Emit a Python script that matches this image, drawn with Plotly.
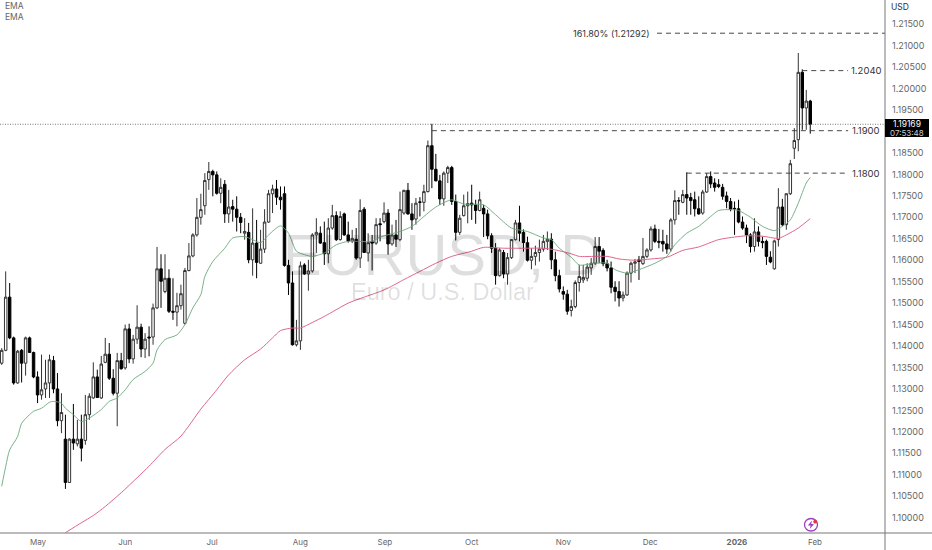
import plotly.graph_objects as go

W, H = 932, 550
AXIS_X, AXIS_Y = 885, 533

opens = [
    1.1360, 1.1390, 1.1514, 1.1419, 1.1314, 1.1390, 1.1360, 1.1419, 1.1385, 1.1328,
    1.1286, 1.1300, 1.1314, 1.1366, 1.1300, 1.1226, 1.1183, 1.1082, 1.1183, 1.1172,
    1.1183, 1.1180, 1.1240, 1.1279, 1.1328, 1.1279, 1.1362, 1.1381, 1.1325, 1.1290,
    1.1366, 1.1349, 1.1440, 1.1370, 1.1416, 1.1444, 1.1393, 1.1421, 1.1421, 1.1489,
    1.1580, 1.1527, 1.1558, 1.1481, 1.1479, 1.1494, 1.1453, 1.1576, 1.1610, 1.1659,
    1.1700, 1.1727, 1.1788, 1.1807, 1.1799, 1.1756, 1.1777, 1.1708, 1.1725, 1.1719,
    1.1700, 1.1663, 1.1665, 1.1601, 1.1640, 1.1593, 1.1626, 1.1689, 1.1755, 1.1766,
    1.1747, 1.1755, 1.1588, 1.1547, 1.1403, 1.1412, 1.1589, 1.1568, 1.1575, 1.1659,
    1.1663, 1.1641, 1.1615, 1.1675, 1.1704, 1.1648, 1.1708, 1.1659, 1.1645, 1.1649,
    1.1605, 1.1719, 1.1617, 1.1643, 1.1640, 1.1685, 1.1690, 1.1710, 1.1638, 1.1659,
    1.1648, 1.1710, 1.1763, 1.1708, 1.1696, 1.1736, 1.1735, 1.1760, 1.1867, 1.1812,
    1.1785, 1.1743, 1.1803, 1.1816, 1.1737, 1.1665, 1.1704, 1.1727, 1.1733, 1.1729,
    1.1716, 1.1721, 1.1708, 1.1657, 1.1628, 1.1564, 1.1618, 1.1568, 1.1606, 1.1648,
    1.1687, 1.1665, 1.1641, 1.1600, 1.1609, 1.1618, 1.1626, 1.1644, 1.1649, 1.1601,
    1.1564, 1.1527, 1.1521, 1.1483, 1.1492, 1.1548, 1.1554, 1.1558, 1.1582, 1.1593,
    1.1632, 1.1623, 1.1592, 1.1582, 1.1537, 1.1527, 1.1512, 1.1519, 1.1570, 1.1593,
    1.1601, 1.1592, 1.1609, 1.1624, 1.1673, 1.1644, 1.1644, 1.1638, 1.1626, 1.1694,
    1.1739, 1.1735, 1.1753, 1.1746, 1.1741, 1.1720, 1.1710, 1.1759, 1.1795, 1.1780,
    1.1776, 1.1770, 1.1750, 1.1737, 1.1721, 1.1720, 1.1689, 1.1675, 1.1659, 1.1632,
    1.1666, 1.1644, 1.1644, 1.1607, 1.1580, 1.1648, 1.1724, 1.1683, 1.1755, 1.1861,
    1.1881, 1.2038, 1.1955, 1.1971,
]
highs = [
    1.1395, 1.1574, 1.1547, 1.1422, 1.1391, 1.1393, 1.1422, 1.1422, 1.1387, 1.1341,
    1.1380, 1.1368, 1.1380, 1.1377, 1.1337, 1.1290, 1.1240, 1.1185, 1.1265, 1.1228,
    1.1240, 1.1286, 1.1290, 1.1362, 1.1345, 1.1377, 1.1419, 1.1407, 1.1346, 1.1384,
    1.1384, 1.1450, 1.1452, 1.1426, 1.1495, 1.1452, 1.1430, 1.1446, 1.1499, 1.1631,
    1.1614, 1.1614, 1.1579, 1.1558, 1.1524, 1.1543, 1.1582, 1.1640, 1.1663, 1.1745,
    1.1755, 1.1803, 1.1829, 1.1811, 1.1807, 1.1791, 1.1787, 1.1764, 1.1741, 1.1749,
    1.1710, 1.1698, 1.1687, 1.1721, 1.1694, 1.1671, 1.1719, 1.1764, 1.1776, 1.1787,
    1.1772, 1.1772, 1.1601, 1.1574, 1.1461, 1.1597, 1.1593, 1.1601, 1.1663, 1.1698,
    1.1679, 1.1690, 1.1698, 1.1729, 1.1714, 1.1714, 1.1711, 1.1690, 1.1671, 1.1675,
    1.1742, 1.1724, 1.1663, 1.1659, 1.1698, 1.1698, 1.1735, 1.1719, 1.1683, 1.1694,
    1.1760, 1.1764, 1.1780, 1.1733, 1.1745, 1.1747, 1.1776, 1.1879, 1.1918, 1.1848,
    1.1799, 1.1807, 1.1820, 1.1820, 1.1753, 1.1706, 1.1753, 1.1760, 1.1776, 1.1741,
    1.1760, 1.1729, 1.1718, 1.1663, 1.1640, 1.1628, 1.1624, 1.1617, 1.1649, 1.1694,
    1.1727, 1.1672, 1.1655, 1.1628, 1.1634, 1.1648, 1.1659, 1.1667, 1.1663, 1.1620,
    1.1578, 1.1539, 1.1531, 1.1508, 1.1553, 1.1589, 1.1589, 1.1593, 1.1605, 1.1654,
    1.1654, 1.1628, 1.1601, 1.1597, 1.1551, 1.1551, 1.1527, 1.1574, 1.1597, 1.1603,
    1.1610, 1.1652, 1.1628, 1.1679, 1.1683, 1.1673, 1.1671, 1.1659, 1.1698, 1.1763,
    1.1747, 1.1764, 1.1805, 1.1757, 1.1760, 1.1749, 1.1764, 1.1803, 1.1807, 1.1791,
    1.1789, 1.1778, 1.1760, 1.1745, 1.1737, 1.1741, 1.1702, 1.1683, 1.1663, 1.1698,
    1.1679, 1.1655, 1.1648, 1.1621, 1.1648, 1.1768, 1.1743, 1.1756, 1.1834, 1.1908,
    1.2083, 1.2045, 1.1997, 1.1974,
]
lows = [
    1.1356, 1.1388, 1.1416, 1.1310, 1.1312, 1.1315, 1.1331, 1.1384, 1.1325, 1.1267,
    1.1275, 1.1279, 1.1279, 1.1290, 1.1213, 1.1197, 1.1067, 1.1081, 1.1158, 1.1166,
    1.1131, 1.1170, 1.1228, 1.1277, 1.1279, 1.1277, 1.1360, 1.1321, 1.1285, 1.1213,
    1.1345, 1.1345, 1.1360, 1.1359, 1.1405, 1.1374, 1.1372, 1.1376, 1.1403, 1.1486,
    1.1489, 1.1523, 1.1477, 1.1461, 1.1446, 1.1485, 1.1450, 1.1574, 1.1607, 1.1655,
    1.1683, 1.1706, 1.1764, 1.1749, 1.1753, 1.1733, 1.1687, 1.1687, 1.1690, 1.1667,
    1.1663, 1.1648, 1.1593, 1.1564, 1.1558, 1.1592, 1.1617, 1.1687, 1.1710, 1.1729,
    1.1718, 1.1585, 1.1519, 1.1401, 1.1399, 1.1391, 1.1566, 1.1529, 1.1571, 1.1617,
    1.1638, 1.1589, 1.1593, 1.1671, 1.1645, 1.1646, 1.1657, 1.1641, 1.1640, 1.1601,
    1.1582, 1.1617, 1.1597, 1.1576, 1.1636, 1.1644, 1.1686, 1.1613, 1.1634, 1.1631,
    1.1644, 1.1706, 1.1706, 1.1671, 1.1683, 1.1702, 1.1714, 1.1758, 1.1768, 1.1784,
    1.1729, 1.1727, 1.1780, 1.1729, 1.1646, 1.1659, 1.1702, 1.1686, 1.1694, 1.1685,
    1.1714, 1.1654, 1.1649, 1.1617, 1.1543, 1.1562, 1.1558, 1.1543, 1.1603, 1.1646,
    1.1644, 1.1620, 1.1597, 1.1579, 1.1588, 1.1597, 1.1620, 1.1624, 1.1579, 1.1551,
    1.1525, 1.1508, 1.1473, 1.1469, 1.1488, 1.1527, 1.1547, 1.1551, 1.1566, 1.1589,
    1.1593, 1.1586, 1.1574, 1.1523, 1.1504, 1.1492, 1.1504, 1.1517, 1.1548, 1.1570,
    1.1554, 1.1589, 1.1605, 1.1620, 1.1640, 1.1628, 1.1620, 1.1615, 1.1620, 1.1683,
    1.1706, 1.1733, 1.1706, 1.1706, 1.1702, 1.1706, 1.1706, 1.1757, 1.1768, 1.1760,
    1.1768, 1.1741, 1.1721, 1.1714, 1.1659, 1.1686, 1.1671, 1.1640, 1.1618, 1.1620,
    1.1632, 1.1628, 1.1589, 1.1593, 1.1578, 1.1632, 1.1679, 1.1671, 1.1752, 1.1836,
    1.1854, 1.1904, 1.1904, 1.1895,
]
closes = [
    1.1390, 1.1514, 1.1419, 1.1314, 1.1388, 1.1360, 1.1419, 1.1385, 1.1328, 1.1286,
    1.1298, 1.1314, 1.1368, 1.1300, 1.1226, 1.1245, 1.1082, 1.1183, 1.1174, 1.1183,
    1.1162, 1.1240, 1.1283, 1.1328, 1.1280, 1.1358, 1.1381, 1.1325, 1.1290, 1.1366,
    1.1347, 1.1440, 1.1370, 1.1416, 1.1444, 1.1393, 1.1416, 1.1419, 1.1489, 1.1580,
    1.1551, 1.1558, 1.1481, 1.1479, 1.1494, 1.1522, 1.1576, 1.1610, 1.1659, 1.1700,
    1.1718, 1.1786, 1.1807, 1.1799, 1.1756, 1.1770, 1.1708, 1.1724, 1.1719, 1.1700,
    1.1688, 1.1667, 1.1601, 1.1640, 1.1595, 1.1626, 1.1689, 1.1755, 1.1766, 1.1747,
    1.1741, 1.1588, 1.1547, 1.1403, 1.1412, 1.1587, 1.1568, 1.1575, 1.1659, 1.1665,
    1.1640, 1.1615, 1.1675, 1.1704, 1.1648, 1.1702, 1.1659, 1.1645, 1.1651, 1.1605,
    1.1716, 1.1618, 1.1641, 1.1640, 1.1683, 1.1683, 1.1710, 1.1638, 1.1659, 1.1649,
    1.1718, 1.1763, 1.1708, 1.1694, 1.1733, 1.1735, 1.1760, 1.1867, 1.1812, 1.1785,
    1.1743, 1.1803, 1.1816, 1.1737, 1.1665, 1.1698, 1.1727, 1.1732, 1.1729, 1.1716,
    1.1741, 1.1708, 1.1657, 1.1628, 1.1564, 1.1624, 1.1568, 1.1606, 1.1648, 1.1687,
    1.1663, 1.1641, 1.1600, 1.1609, 1.1618, 1.1626, 1.1644, 1.1649, 1.1601, 1.1564,
    1.1533, 1.1521, 1.1481, 1.1492, 1.1548, 1.1562, 1.1560, 1.1584, 1.1593, 1.1632,
    1.1621, 1.1592, 1.1582, 1.1537, 1.1527, 1.1512, 1.1519, 1.1570, 1.1593, 1.1596,
    1.1597, 1.1609, 1.1624, 1.1673, 1.1644, 1.1642, 1.1638, 1.1626, 1.1694, 1.1739,
    1.1738, 1.1753, 1.1745, 1.1739, 1.1720, 1.1708, 1.1759, 1.1795, 1.1778, 1.1770,
    1.1772, 1.1749, 1.1737, 1.1719, 1.1720, 1.1689, 1.1675, 1.1659, 1.1632, 1.1666,
    1.1644, 1.1641, 1.1609, 1.1596, 1.1645, 1.1724, 1.1683, 1.1755, 1.1825, 1.1879,
    1.2038, 1.1955, 1.1971, 1.1917,
]

ema_fast_idx = [0, 1, 2, 4, 5, 7, 8, 10, 12, 13, 15, 16, 18, 20, 22, 25, 27, 29, 31, 33,
                36, 38, 39, 41, 44, 46, 48, 50, 51, 53, 56, 58, 61, 63, 65, 67, 70, 72, 74, 76,
                78, 81, 84, 87, 89, 93, 95, 100, 103, 106, 109, 113, 116, 121, 124, 128, 132, 136, 138, 140,
                143, 145, 149, 152, 154, 157, 160, 164, 167, 169, 172, 175, 178, 180, 183, 185, 188, 191, 194, 196,
                198, 200, 202, 203]
ema_fast = [1.1073, 1.1119, 1.1158, 1.1189, 1.1220, 1.1240, 1.1248, 1.1255, 1.1269, 1.1271,
            1.1267, 1.1255, 1.1240, 1.1224, 1.1232, 1.1252, 1.1271, 1.1279, 1.1298, 1.1322,
            1.1341, 1.1360, 1.1391, 1.1415, 1.1426, 1.1450, 1.1489, 1.1520, 1.1562, 1.1597,
            1.1628, 1.1652, 1.1655, 1.1648, 1.1641, 1.1659, 1.1680, 1.1663, 1.1621, 1.1613,
            1.1609, 1.1617, 1.1636, 1.1644, 1.1644, 1.1644, 1.1654, 1.1667, 1.1679, 1.1702,
            1.1724, 1.1741, 1.1731, 1.1729, 1.1706, 1.1675, 1.1667, 1.1652, 1.1648, 1.1628,
            1.1607, 1.1589, 1.1593, 1.1593, 1.1578, 1.1570, 1.1578, 1.1593, 1.1609, 1.1636,
            1.1663, 1.1679, 1.1702, 1.1716, 1.1718, 1.1716, 1.1700, 1.1679, 1.1669, 1.1679,
            1.1694, 1.1733, 1.1780, 1.1793]

ema_slow_idx = [16, 20, 23, 26, 30, 34, 37, 41, 45, 50, 54, 57, 61, 65, 68, 70, 73, 75, 78, 81,
                87, 91, 95, 97, 101, 105, 109, 113, 118, 121, 126, 132, 136, 139, 143, 145, 149, 152, 155, 159,
                163, 167, 171, 175, 180, 184, 187, 191, 195, 197, 200, 203]
ema_slow = [1.0965, 1.0988, 1.1005, 1.1026, 1.1058, 1.1093, 1.1120, 1.1159, 1.1190, 1.1253,
            1.1298, 1.1333, 1.1368, 1.1393, 1.1419, 1.1436, 1.1442, 1.1442, 1.1455, 1.1469,
            1.1500, 1.1514, 1.1527, 1.1535, 1.1555, 1.1574, 1.1593, 1.1609, 1.1621, 1.1630,
            1.1628, 1.1628, 1.1628, 1.1624, 1.1615, 1.1609, 1.1609, 1.1609, 1.1603, 1.1600,
            1.1603, 1.1607, 1.1623, 1.1631, 1.1648, 1.1654, 1.1657, 1.1656, 1.1651, 1.1659,
            1.1675, 1.1697]

price_ticks = [1.10, 1.105, 1.11, 1.115, 1.12, 1.125, 1.13, 1.135, 1.14, 1.145, 1.15, 1.155,
               1.16, 1.165, 1.17, 1.175, 1.18, 1.185, 1.19, 1.195, 1.20, 1.205, 1.21, 1.215]
month_idx = [9.1, 31, 52.8, 75, 96.2, 118, 141, 162.8, 184.6, 204.2]
month_labels = ['May', 'Jun', 'Jul', 'Aug', 'Sep', 'Oct', 'Nov', 'Dec', '<b>2026</b>', 'Feb']

# (start candle, price, label)
levels = [(201, 1.2042, '1.2040'), (108, 1.1902, '1.1900'), (172, 1.1803, '1.1800')]
fib_level = 1.21292
fib_label = '161.80% (1.21292)'
last_price = 1.19169
countdown = '07:53:48'


def px(x):
    return x / W


def py(y):
    return 1 - y / H


fig = go.Figure()

fig.add_trace(go.Candlestick(
    x=list(range(len(opens))), open=opens, high=highs, low=lows, close=closes,
    increasing=dict(line=dict(color='#333333', width=1), fillcolor='white'),
    decreasing=dict(line=dict(color='#000000', width=1), fillcolor='#000000'),
    showlegend=False, hoverinfo='skip',
))
fig.add_trace(go.Scatter(x=ema_fast_idx, y=ema_fast, mode='lines', showlegend=False, hoverinfo='skip',
                         line=dict(color='#6aa87c', width=0.9, shape='spline', smoothing=0.7)))
fig.add_trace(go.Scatter(x=ema_slow_idx, y=ema_slow, mode='lines', showlegend=False, hoverinfo='skip',
                         line=dict(color='#e0668c', width=1, shape='spline', smoothing=0.7)))

dash = '5px,4px'
shapes = [
    dict(type='line', xref='paper', yref='y', x0=0, x1=px(AXIS_X), y0=last_price, y1=last_price,
         line=dict(color='#555555', width=0.8, dash='1px,1.5px')),
    dict(type='line', xref='paper', yref='y', x0=px(657), x1=px(AXIS_X), y0=fib_level, y1=fib_level,
         line=dict(color='#333333', width=0.9, dash=dash)),
]
for start, level, label in levels:
    shapes.append(dict(type='line', xref='x', yref='y', x0=start, x1=212.5, y0=level, y1=level,
                       line=dict(color='#333333', width=0.9, dash=dash)))
# frame lines run to the window edges
shapes.append(dict(type='line', xref='paper', yref='paper', x0=px(AXIS_X), x1=px(AXIS_X), y0=0, y1=1,
                   line=dict(color='#777777', width=1)))
shapes.append(dict(type='line', xref='paper', yref='paper', x0=0, x1=1, y0=py(AXIS_Y), y1=py(AXIS_Y),
                   line=dict(color='#777777', width=1)))
# price tag
shapes.append(dict(type='rect', xref='paper', yref='paper', x0=px(885), x1=px(929), y0=py(137), y1=py(119),
                   fillcolor='#000000', line=dict(width=0)))
# bolt badge
shapes.append(dict(type='circle', xref='paper', yref='paper', x0=px(804.5), x1=px(817.5), y0=py(531), y1=py(518.5),
                   fillcolor='white', line=dict(color='#9c3fc4', width=1.3)))
shapes.append(dict(type='path', xref='paper', yref='paper',
                   path=f'M {px(812)} {py(520.5)} L {px(807.8)} {py(525.5)} L {px(810.6)} {py(525.5)} '
                        f'L {px(809.8)} {py(529)} L {px(814)} {py(524)} L {px(811.2)} {py(524)} Z',
                   fillcolor='#9c3fc4', line=dict(width=0)))
shapes.append(dict(type='circle', xref='paper', yref='paper', x0=px(813.3), x1=px(817.1), y0=py(523.6), y1=py(519.8),
                   fillcolor='#e5343d', line=dict(width=0)))

annotations = []


def note(x, y, text, size, color, font='Inter', xanchor='center', yref='paper'):
    annotations.append(dict(x=px(x), y=y, xref='paper', yref=yref, text=text, showarrow=False,
                            xanchor=xanchor, yanchor='middle', align='center',
                            font=dict(family=font, size=size, color=color)))


# watermark: a low alpha black leaves the black candles untouched
note(442, py(254), 'EURUSD, D', 58, 'rgba(0,0,0,0.13)', font='Liberation Sans')
note(442, py(292), 'Euro / U.S. Dollar', 23.5, 'rgba(0,0,0,0.13)', font='Liberation Sans')
note(3, py(6), 'EMA', 8.5, '#666666', xanchor='left')
note(3, py(17), 'EMA', 8.5, '#666666', xanchor='left')
note(900, py(7), 'USD', 8.5, '#333333')
note(611, fib_level, fib_label, 9, '#333333', yref='y')
for start, level, label in levels:
    note(866, level, label, 9.5, '#333333', yref='y')
note(907, py(124.5), f'{last_price:.5f}', 8.5, '#ffffff')
note(907, py(132.5), countdown, 8, '#cccccc')

fig.update_layout(
    width=W, height=H, autosize=False,
    margin=dict(l=0, r=0, t=0, b=0),
    paper_bgcolor='white', plot_bgcolor='white',
    showlegend=False, boxgap=0.12,
    shapes=shapes, annotations=annotations,
    xaxis=dict(domain=[0, px(AXIS_X)], range=[-0.427, 221.77], rangeslider=dict(visible=False),
               tickmode='array', tickvals=month_idx, ticktext=month_labels,
               showgrid=False, zeroline=False, showline=False, ticks='', ticklabelstandoff=3,
               tickfont=dict(family='Inter', size=8, color='#666666')),
    yaxis=dict(domain=[py(AXIS_Y), 1], range=[1.09642, 1.22066], side='right', anchor='x',
               tickmode='array', tickvals=price_ticks, tickformat='.5f',
               showgrid=False, zeroline=False, showline=False, ticks='', ticklabelstandoff=6,
               tickfont=dict(family='Inter', size=9, color='#666666')),
)

# the page's default body margin would shift the whole chart
fig.write_html('out.html', config=dict(displayModeBar=False),
               post_script="document.body.style.margin='0';")
